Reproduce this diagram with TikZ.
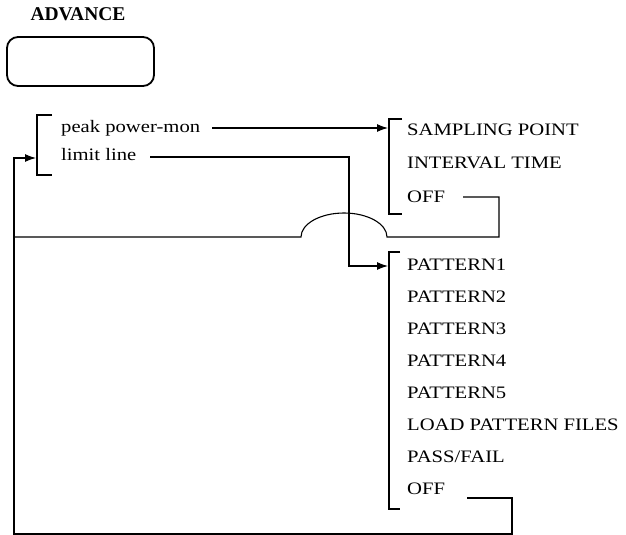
\documentclass[tikz,border=0pt]{standalone}
\usepackage{fontspec}
\setmainfont{Liberation Serif}[FakeStretch=1.18]
\newfontfamily\plainfont{Liberation Serif}
\usetikzlibrary{arrows.meta}
\begin{document}
\begin{tikzpicture}[x=1pt,y=-1pt,
  item/.style={anchor=west,inner sep=0pt,font=\fontsize{17.5}{20}\selectfont},
  ln/.style={line width=1.1pt},
  brk/.style={line width=1.1pt},
  arr/.style={ln,-{Latex[length=11pt,width=8pt]}}]
\useasboundingbox (0,0) rectangle (626,535);
% title and key
\node[inner sep=0pt,font=\plainfont\bfseries\fontsize{19.5}{22}\selectfont] (adv) at (78,14) {ADVANCE};
\node[draw,line width=1.8pt,rounded corners=11pt,minimum width=147pt,minimum height=49pt,inner sep=0pt] (key) at (80.5,61.5) {};
% first menu
\node[item] (peak) at (61,128) {peak power-mon};
\node[item] (limit) at (61,155) {limit line};
\coordinate (b1t) at (37,115);
\coordinate (b1b) at (37,175);
\draw[brk] (52,115) -- (b1t) -- (b1b) -- (52,175);
\coordinate (b1in) at (36,158);
% second menu
\node[item] (samp) at (407,130) {SAMPLING POINT};
\node[item] (intv) at (407,163) {INTERVAL TIME};
\node[item] (offa) at (407,197) {OFF};
\draw[brk] (402,119) -- (389,119) -- (389,214) -- (402,214);
\coordinate (b2in) at (388,128);
% third menu
\node[item] (p1) at (407,265) {PATTERN1};
\node[item] (p2) at (407,297) {PATTERN2};
\node[item] (p3) at (407,329) {PATTERN3};
\node[item] (p4) at (407,361) {PATTERN4};
\node[item] (p5) at (407,393) {PATTERN5};
\node[item] (load) at (407,425) {LOAD PATTERN FILES};
\node[item] (pass) at (407,457) {PASS/FAIL};
\node[item] (offb) at (407,489) {OFF};
\draw[brk] (400,252) -- (389,252) -- (389,509) -- (400,509);
\coordinate (b3in) at (388,266);
% connectors
\coordinate (peakout) at (212,128);
\draw[arr] (peakout) -- (b2in);
\coordinate (limout) at (150,157);
\coordinate (limbend1) at (349,157);
\coordinate (limbend2) at (349,266);
\draw[arr] (limout) -- (limbend1) -- (limbend2) -- (b3in);
\coordinate (offaout) at (463,197);
\draw[ln] (offaout) -- (499,197) -- (499,237) -- (387,237)
  .. controls (387,223.8) and (367.7,213) .. (344,213)
  .. controls (320.3,213) and (301,223.8) .. (301,237) -- (14,237);
\coordinate (offbout) at (467,498);
\draw[arr] (offbout) -- (512,498) -- (512,534) -- (14,534) -- (14,158) -- (b1in);
\end{tikzpicture}
\end{document}
